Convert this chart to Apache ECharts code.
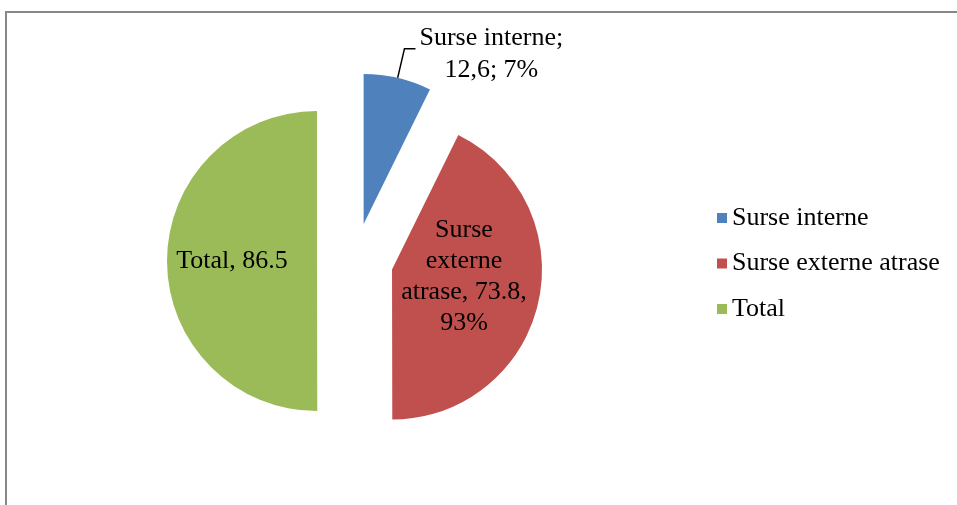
<!DOCTYPE html>
<html>
<head>
<meta charset="utf-8">
<script src="https://cdn.jsdelivr.net/npm/echarts@6/dist/echarts.min.js"></script>
<style>
html,body{margin:0;padding:0;background:#fff;}
#c{width:957px;height:505px;}
</style>
</head>
<body>
<div id="c"></div>
<script>
var categories = ['Surse interne', 'Surse externe atrase', 'Total'];
var values = [12.6, 73.8, 86.5];
var valueTexts = ['12,6', '73.8', '86.5'];
var pctTexts = ['7%', '93%', ''];
var colors = ['#4F81BD', '#C0504D', '#9BBB59'];

var FONT = '"Liberation Serif", "Times New Roman", serif';

var data = categories.map(function (name, i) {
  var item = { name: name, value: values[i], selected: true, itemStyle: { color: colors[i] } };
  if (i === 0) {
    item.label = {
      position: 'outside',
      distanceToLabelLine: 4,
      padding: [10, 0, 0, 0],
      formatter: '{c|' + name + ';}\n{c|' + valueTexts[i] + '; ' + pctTexts[i] + '}',
      rich: { c: { align: 'center', fontSize: 26, lineHeight: 32, fontFamily: FONT, color: '#000' } }
    };
    item.labelLine = { show: true, length: 30, length2: 11, lineStyle: { color: '#000', width: 1.5 } };
  } else if (i === 1) {
    item.label = {
      position: 'inside',
      padding: [0, 8, 0, 0],
      formatter: '{t|Surse}\n{t|externe}\n{t|atrase, ' + valueTexts[i] + ',}\n{t|' + pctTexts[i] + '}\n{s| }',
      rich: {
        t: { align: 'center', fontSize: 26, lineHeight: 31, fontFamily: FONT, color: '#000' },
        s: { align: 'center', fontSize: 2, lineHeight: 21 }
      }
    };
  } else {
    item.label = {
      position: 'inside',
      padding: [0, 14, 0, 0],
      formatter: name + ', ' + valueTexts[i]
    };
  }
  return item;
});

var chart = echarts.init(document.getElementById('c'));
chart.setOption({
  animation: false,
  backgroundColor: '#fff',
  graphic: [{
    type: 'rect',
    shape: { x: 6, y: 12, width: 1200, height: 1000 },
    style: { fill: 'none', stroke: '#888', lineWidth: 2 },
    silent: true
  }],
  legend: {
    orient: 'vertical',
    left: 712,
    top: 200,
    itemWidth: 10,
    itemHeight: 10,
    itemGap: 19.5,
    icon: 'rect',
    data: categories,
    textStyle: { fontFamily: FONT, fontSize: 26, color: '#000', lineHeight: 26 }
  },
  series: [{
    type: 'pie',
    center: [355, 261],
    radius: 150,
    startAngle: 90,
    clockwise: true,
    selectedMode: 'multiple',
    selectedOffset: 38,
    avoidLabelOverlap: false,
    emphasis: { disabled: true },
    label: { color: '#000', fontFamily: FONT, fontSize: 26 },
    data: data
  }]
});
</script>
</body>
</html>
